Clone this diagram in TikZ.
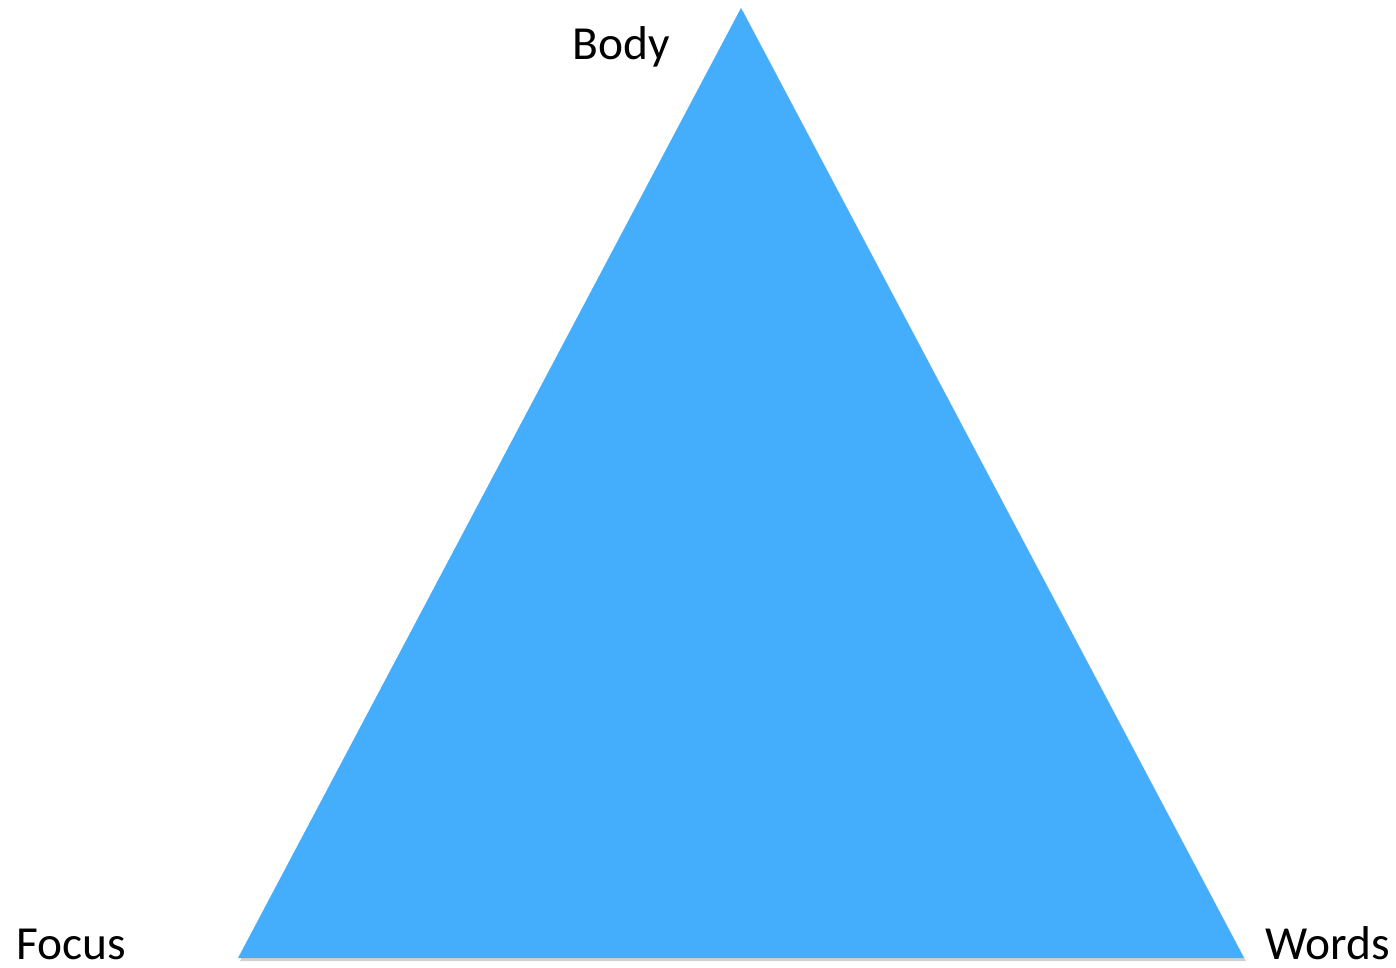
\documentclass[tikz,border=0pt]{standalone}
\usepackage{fontspec}
\setmainfont{Carlito}
\usepackage{xcolor}
\usepackage{tikz}
\usetikzlibrary{positioning,calc}

\definecolor{triblue}{HTML}{44AEFD}

\begin{document}
\begin{tikzpicture}[x=0.02cm, y=-0.02cm]
  \tikzset{
    corner/.style={font=\fontsize{27}{32}\selectfont, inner sep=0pt,
                   anchor=base west},
    tri/.style={fill=triblue, draw=none},
    trishadow/.style={fill=black, opacity=0.18, draw=none}
  }
  \useasboundingbox (0,0) rectangle (1396,967);
  % Corners of the triangle
  \coordinate (top)   at (741,8);
  \coordinate (left)  at (238,958);
  \coordinate (right) at (1244,958);
  % Shadow and triangle
  \fill[trishadow] ($(top)+(2,3)$) -- ($(left)+(2,3)$) -- ($(right)+(2,3)$) -- cycle;
  \fill[tri] (top) -- (left) -- (right) -- cycle;
  % Labels
  \node[corner] (body)  at (572,59)  {Body};
  \node[corner] (focus) at (16,959)  {Focus};
  \node[corner] (words) at (1265,959) {Words};
\end{tikzpicture}
\end{document}
